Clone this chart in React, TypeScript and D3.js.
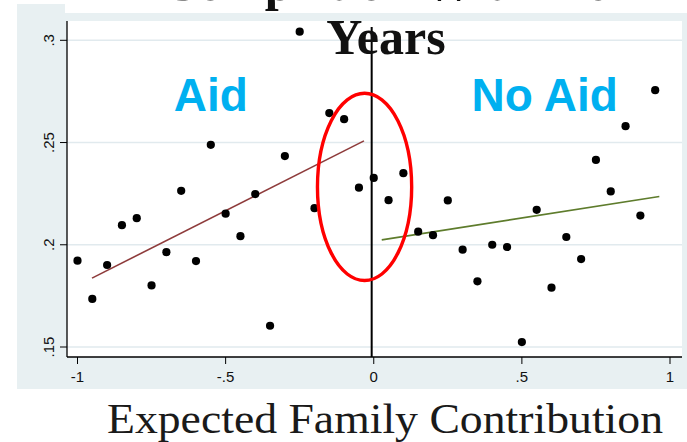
import React from "react";
import * as d3 from "d3";

// Binned completion rates by distance from the aid eligibility cutoff
const aidEfc = [-1, -0.95, -0.9, -0.85, -0.8, -0.75, -0.7, -0.65, -0.6, -0.55, -0.5, -0.45, -0.4, -0.35, -0.3, -0.25, -0.2, -0.15, -0.1, -0.05];
const aidRate = [0.1922, 0.1735, 0.1901, 0.2096, 0.213, 0.1801, 0.1964, 0.2264, 0.192, 0.2489, 0.2152, 0.2042, 0.2248, 0.1604, 0.2434, 0.3042, 0.2179, 0.2644, 0.2614, 0.2279];
const noAidEfc = [0, 0.05, 0.1, 0.15, 0.2, 0.25, 0.3, 0.35, 0.4, 0.45, 0.5, 0.55, 0.6, 0.65, 0.7, 0.75, 0.8, 0.85, 0.9, 0.95];
const noAidRate = [0.2327, 0.2218, 0.235, 0.2064, 0.2047, 0.2217, 0.1976, 0.1821, 0.2, 0.1989, 0.1524, 0.2171, 0.179, 0.2038, 0.193, 0.2415, 0.2261, 0.258, 0.2143, 0.2756];

// Linear fit segments on each side of the cutoff
const aidFitX = [-0.951, -0.033];
const aidFitY = [0.1837, 0.2508];
const noAidFitX = [0.027, 0.964];
const noAidFitY = [0.2024, 0.2236];

const xTicks = [-1, -0.5, 0, 0.5, 1];
const xTickLabels = ["-1", "-.5", "0", ".5", "1"];
const yTicks = [0.15, 0.2, 0.25, 0.3];
const yTickLabels = [".15", ".2", ".25", ".3"];

const titleLines = ["Completion Within 6", "Years"];
const xTitle = "Expected Family Contribution";
const sideLabels = [
  { text: "Aid", x: -0.55, y: 0.2655 },
  { text: "No Aid", x: 0.577, y: 0.2655 },
];
// Highlighted region around the cutoff (centre and radii in data units)
const highlight = { cx: -0.031, cy: 0.2283, rx: 0.159, ry: 0.0458 };
const cutoffX = -0.007;
const cutoffTop = 0.3065;

const W = 687;
const H = 442;
const plot = { left: 67, right: 682, top: 21, bottom: 357 };
const panelBg = "#e8f0f2";
const gridColor = "#e1eaee";
const sans = "'Liberation Sans', Arial, sans-serif";
const serif = "'Liberation Serif', 'Times New Roman', serif";

export default function App() {
  const x = d3.scaleLinear().domain([-1, 1]).range([77.5, 670]);
  const y = d3.scaleLinear().domain([0.15, 0.3]).range([347, 40.3]);
  const line = d3
    .line<[number, number]>()
    .x((d) => x(d[0]))
    .y((d) => y(d[1]));
  const aidFit = line(aidFitX.map((v, i) => [v, aidFitY[i]] as [number, number])) || "";
  const noAidFit = line(noAidFitX.map((v, i) => [v, noAidFitY[i]] as [number, number])) || "";

  const ex = x(highlight.cx);
  const ey = y(highlight.cy);
  const erx = x(highlight.cx + highlight.rx) - ex;
  const ery = ey - y(highlight.cy + highlight.ry);

  return (
    <svg
      width={W}
      height={H}
      viewBox={`0 0 ${W} ${H}`}
      style={{ position: "absolute", left: 0, top: 0, background: "#fff" }}
    >
      {/* graph region */}
      <rect x={17} y={4} width={W - 17} height={385} fill={panelBg} />
      <rect x={65} y={0} width={W - 65} height={13} fill="#fff" />
      {/* plot region */}
      <rect
        x={plot.left}
        y={plot.top}
        width={plot.right - plot.left}
        height={plot.bottom - plot.top}
        fill="#fff"
      />
      {yTicks.map((t) => (
        <line
          key={"g" + t}
          x1={plot.left}
          x2={plot.right}
          y1={y(t)}
          y2={y(t)}
          stroke={gridColor}
          strokeWidth={1.5}
        />
      ))}

      {/* axes */}
      <line x1={plot.left} x2={plot.left} y1={plot.top} y2={plot.bottom} stroke="#000" strokeWidth={1.3} />
      <line x1={plot.left} x2={plot.right} y1={plot.bottom} y2={plot.bottom} stroke="#000" strokeWidth={1.3} />
      {yTicks.map((t, i) => (
        <g key={"y" + t}>
          <line x1={plot.left - 7} x2={plot.left} y1={y(t)} y2={y(t)} stroke="#000" strokeWidth={1} />
          <text
            transform={`translate(53.5,${y(t)}) rotate(-90)`}
            textAnchor="middle"
            fontFamily={sans}
            fontSize={15}
            fill="#111"
          >
            {yTickLabels[i]}
          </text>
        </g>
      ))}
      {xTicks.map((t, i) => (
        <g key={"x" + t}>
          <line x1={x(t)} x2={x(t)} y1={plot.bottom} y2={plot.bottom + 7} stroke="#000" strokeWidth={1} />
          <text x={x(t)} y={382} textAnchor="middle" fontFamily={sans} fontSize={15} fill="#111">
            {xTickLabels[i]}
          </text>
        </g>
      ))}

      {/* fit lines */}
      <path d={aidFit} fill="none" stroke="#8e3b3b" strokeWidth={1.6} />
      <path d={noAidFit} fill="none" stroke="#5e7c2c" strokeWidth={1.6} />

      {/* binned means */}
      {aidEfc.map((v, i) => (
        <circle key={"a" + i} cx={x(v)} cy={y(aidRate[i])} r={4.1} fill="#000" />
      ))}
      {noAidEfc.map((v, i) => (
        <circle key={"n" + i} cx={x(v)} cy={y(noAidRate[i])} r={4.1} fill="#000" />
      ))}

      {/* cutoff */}
      <line x1={x(cutoffX)} x2={x(cutoffX)} y1={y(cutoffTop)} y2={plot.bottom} stroke="#000" strokeWidth={2} />

      <ellipse cx={ex} cy={ey} rx={erx} ry={ery} fill="none" stroke="#ff0000" strokeWidth={3.4} />

      {sideLabels.map((s) => (
        <text
          key={s.text}
          x={x(s.x)}
          y={y(s.y)}
          textAnchor="middle"
          fontFamily={sans}
          fontWeight="bold"
          fontSize={46}
          fill="#00b0f0"
        >
          {s.text}
        </text>
      ))}

      {/* title */}
      {titleLines.map((t, i) => (
        <text
          key={t}
          x={386}
          y={0 + i * 54}
          textAnchor="middle"
          fontFamily={serif}
          fontWeight="bold"
          fontSize={50}
          fill="#111"
        >
          {t}
        </text>
      ))}

      <text
        x={385}
        y={433}
        textAnchor="middle"
        fontFamily={serif}
        fontSize={42}
        textLength={556}
        lengthAdjust="spacingAndGlyphs"
        fill="#1a1a1a"
      >
        {xTitle}
      </text>
    </svg>
  );
}
